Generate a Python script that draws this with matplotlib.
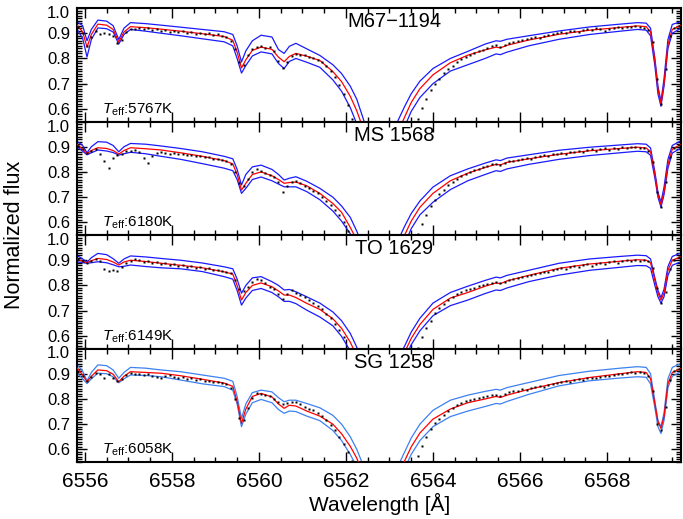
import numpy as np
import matplotlib
matplotlib.use("Agg")
import matplotlib.pyplot as plt
from matplotlib.ticker import MultipleLocator
from matplotlib.transforms import ScaledTranslation

plt.rcParams["font.family"] = ["Liberation Sans", "DejaVu Sans"]
plt.rcParams["mathtext.fontset"] = "custom"
plt.rcParams["mathtext.rm"] = "Liberation Sans"
plt.rcParams["mathtext.it"] = "Liberation Sans:italic"

# csillagok
star_names = ["M67\u22121194", "MS 1568", "TO 1629", "SG 1258"]
teff_values = [5767, 6180, 6149, 6058]

# modell hullamhossz racs (A)
wave_model = [6555.8, 6555.95, 6556.05, 6556.15, 6556.3, 6556.5, 6556.65, 6556.78, 6556.9, 6557.05,
              6557.4, 6557.75, 6558.2, 6558.7, 6559.2, 6559.4, 6559.5, 6559.6, 6559.7, 6559.85,
              6560.05, 6560.3, 6560.45, 6560.58, 6560.7, 6560.85, 6561.1, 6561.4, 6561.7, 6561.9,
              6562.1, 6562.25, 6562.4, 6562.55, 6562.8, 6563.05, 6563.2, 6563.35, 6563.5, 6563.7,
              6564.0, 6564.4, 6564.8, 6565.2, 6565.45, 6565.55, 6565.7, 6566.2, 6566.9, 6567.6,
              6568.3, 6568.7, 6568.9, 6569.0, 6569.1, 6569.17, 6569.24, 6569.31, 6569.4, 6569.5,
              6569.7]

# M67-1194
fit_1194 = [0.937, 0.905, 0.845, 0.895, 0.936, 0.932, 0.915, 0.865, 0.905, 0.926,
            0.922, 0.916, 0.908, 0.898, 0.887, 0.872, 0.825, 0.762, 0.795, 0.832,
            0.845, 0.836, 0.805, 0.787, 0.808, 0.820, 0.809, 0.792, 0.748, 0.708,
            0.650, 0.592, 0.520, 0.440, 0.350, 0.430, 0.510, 0.568, 0.625, 0.680,
            0.735, 0.783, 0.813, 0.834, 0.845, 0.842, 0.852, 0.873, 0.896, 0.912,
            0.923, 0.929, 0.926, 0.905, 0.790, 0.680, 0.620, 0.700, 0.855, 0.915,
            0.932]
cool_1194 = [0.948, 0.930, 0.870, 0.915, 0.952, 0.948, 0.930, 0.875, 0.920, 0.942,
             0.938, 0.932, 0.924, 0.915, 0.906, 0.895, 0.850, 0.786, 0.830, 0.870,
             0.892, 0.885, 0.835, 0.820, 0.848, 0.860, 0.838, 0.812, 0.775, 0.740,
             0.690, 0.638, 0.560, 0.470, 0.380, 0.470, 0.555, 0.610, 0.660, 0.710,
             0.760, 0.800, 0.828, 0.857, 0.870, 0.868, 0.876, 0.890, 0.909, 0.925,
             0.936, 0.942, 0.940, 0.920, 0.800, 0.690, 0.630, 0.720, 0.875, 0.935,
             0.946]
hot_1194 = [0.921, 0.880, 0.806, 0.875, 0.921, 0.918, 0.905, 0.857, 0.895, 0.915,
            0.908, 0.900, 0.890, 0.878, 0.866, 0.850, 0.800, 0.742, 0.772, 0.810,
            0.826, 0.818, 0.780, 0.760, 0.788, 0.800, 0.785, 0.765, 0.715, 0.670,
            0.605, 0.540, 0.470, 0.400, 0.320, 0.400, 0.470, 0.530, 0.590, 0.645,
            0.700, 0.750, 0.775, 0.800, 0.818, 0.815, 0.825, 0.850, 0.876, 0.895,
            0.908, 0.915, 0.912, 0.890, 0.770, 0.660, 0.610, 0.690, 0.840, 0.900,
            0.920]

# MS 1568
fit_1568 = [0.913, 0.890, 0.872, 0.885, 0.896, 0.893, 0.885, 0.871, 0.885, 0.896,
            0.892, 0.887, 0.876, 0.862, 0.845, 0.832, 0.790, 0.728, 0.755, 0.790,
            0.800, 0.785, 0.770, 0.755, 0.758, 0.760, 0.745, 0.715, 0.675, 0.640,
            0.580, 0.530, 0.470, 0.410, 0.330, 0.410, 0.490, 0.550, 0.605, 0.660,
            0.715, 0.765, 0.795, 0.818, 0.830, 0.828, 0.838, 0.852, 0.870, 0.884,
            0.893, 0.898, 0.895, 0.880, 0.790, 0.710, 0.670, 0.720, 0.830, 0.890,
            0.910]
cool_1568 = [0.924, 0.905, 0.876, 0.900, 0.920, 0.918, 0.905, 0.880, 0.900, 0.913,
             0.910, 0.903, 0.893, 0.880, 0.862, 0.852, 0.810, 0.748, 0.790, 0.820,
             0.827, 0.810, 0.790, 0.768, 0.775, 0.781, 0.763, 0.735, 0.700, 0.665,
             0.620, 0.565, 0.500, 0.440, 0.360, 0.450, 0.530, 0.585, 0.635, 0.685,
             0.740, 0.785, 0.812, 0.835, 0.848, 0.845, 0.855, 0.868, 0.886, 0.898,
             0.907, 0.912, 0.910, 0.895, 0.800, 0.720, 0.680, 0.740, 0.850, 0.905,
             0.924]
hot_1568 = [0.903, 0.882, 0.868, 0.876, 0.887, 0.883, 0.877, 0.867, 0.872, 0.878,
            0.872, 0.862, 0.850, 0.833, 0.815, 0.805, 0.770, 0.715, 0.735, 0.770,
            0.780, 0.765, 0.752, 0.741, 0.741, 0.741, 0.722, 0.690, 0.645, 0.605,
            0.555, 0.500, 0.440, 0.380, 0.300, 0.380, 0.450, 0.515, 0.575, 0.630,
            0.680, 0.730, 0.765, 0.790, 0.805, 0.802, 0.812, 0.830, 0.850, 0.865,
            0.876, 0.882, 0.880, 0.866, 0.775, 0.700, 0.660, 0.710, 0.815, 0.875,
            0.895]

# TO 1629
fit_1629 = [0.907, 0.895, 0.890, 0.898, 0.907, 0.903, 0.893, 0.881, 0.893, 0.900,
            0.895, 0.888, 0.880, 0.870, 0.854, 0.845, 0.800, 0.742, 0.772, 0.800,
            0.810, 0.795, 0.778, 0.762, 0.762, 0.752, 0.729, 0.705, 0.668, 0.630,
            0.575, 0.520, 0.460, 0.400, 0.320, 0.400, 0.470, 0.535, 0.590, 0.645,
            0.705, 0.750, 0.772, 0.797, 0.810, 0.807, 0.818, 0.840, 0.868, 0.885,
            0.896, 0.902, 0.900, 0.890, 0.820, 0.770, 0.742, 0.770, 0.860, 0.900,
            0.914]
cool_1629 = [0.921, 0.905, 0.892, 0.910, 0.927, 0.922, 0.906, 0.888, 0.905, 0.917,
             0.913, 0.907, 0.900, 0.889, 0.874, 0.866, 0.825, 0.769, 0.800, 0.830,
             0.835, 0.815, 0.800, 0.782, 0.784, 0.775, 0.755, 0.730, 0.695, 0.660,
             0.610, 0.555, 0.490, 0.430, 0.350, 0.440, 0.510, 0.560, 0.615, 0.670,
             0.730, 0.772, 0.797, 0.820, 0.833, 0.830, 0.840, 0.860, 0.888, 0.905,
             0.915, 0.920, 0.918, 0.905, 0.830, 0.780, 0.752, 0.785, 0.875, 0.915,
             0.929]
hot_1629 = [0.894, 0.890, 0.888, 0.890, 0.894, 0.890, 0.882, 0.874, 0.876, 0.881,
            0.875, 0.870, 0.866, 0.855, 0.835, 0.825, 0.780, 0.722, 0.750, 0.780,
            0.788, 0.772, 0.755, 0.737, 0.737, 0.728, 0.702, 0.675, 0.640, 0.598,
            0.540, 0.490, 0.430, 0.370, 0.290, 0.370, 0.440, 0.505, 0.565, 0.620,
            0.680, 0.720, 0.742, 0.768, 0.782, 0.780, 0.790, 0.815, 0.841, 0.860,
            0.872, 0.879, 0.878, 0.868, 0.800, 0.755, 0.730, 0.755, 0.840, 0.880,
            0.894]

# SG 1258
fit_1258 = [0.928, 0.895, 0.868, 0.890, 0.915, 0.912, 0.898, 0.868, 0.890, 0.908,
            0.905, 0.902, 0.892, 0.878, 0.863, 0.850, 0.790, 0.703, 0.760, 0.810,
            0.822, 0.808, 0.780, 0.763, 0.775, 0.772, 0.752, 0.732, 0.700, 0.662,
            0.612, 0.565, 0.500, 0.430, 0.340, 0.420, 0.500, 0.555, 0.610, 0.665,
            0.720, 0.760, 0.785, 0.800, 0.810, 0.806, 0.815, 0.838, 0.865, 0.885,
            0.900, 0.908, 0.905, 0.880, 0.780, 0.710, 0.683, 0.730, 0.860, 0.905,
            0.921]
cool_1258 = [0.941, 0.910, 0.872, 0.905, 0.935, 0.932, 0.915, 0.882, 0.905, 0.925,
             0.922, 0.915, 0.908, 0.895, 0.882, 0.870, 0.810, 0.723, 0.780, 0.825,
             0.835, 0.828, 0.805, 0.789, 0.795, 0.795, 0.782, 0.765, 0.735, 0.700,
             0.650, 0.600, 0.535, 0.470, 0.370, 0.460, 0.535, 0.590, 0.645, 0.700,
             0.755, 0.795, 0.815, 0.830, 0.838, 0.835, 0.845, 0.865, 0.893, 0.910,
             0.922, 0.928, 0.925, 0.900, 0.790, 0.715, 0.690, 0.745, 0.880, 0.925,
             0.941]
hot_1258 = [0.908, 0.880, 0.861, 0.880, 0.902, 0.900, 0.888, 0.864, 0.880, 0.895,
            0.893, 0.888, 0.875, 0.860, 0.849, 0.835, 0.780, 0.690, 0.740, 0.785,
            0.798, 0.785, 0.758, 0.743, 0.752, 0.750, 0.732, 0.714, 0.675, 0.635,
            0.580, 0.530, 0.465, 0.400, 0.310, 0.390, 0.465, 0.525, 0.580, 0.635,
            0.690, 0.730, 0.752, 0.770, 0.782, 0.780, 0.790, 0.818, 0.852, 0.872,
            0.883, 0.888, 0.886, 0.860, 0.765, 0.690, 0.663, 0.715, 0.845, 0.890,
            0.908]

# megfigyelt spektrumok, 0.1 A lepes 6555.85-tol
wave_obs = np.round(6555.85 + 0.1 * np.arange(139), 2)

obs_1194 = [0.925, 0.900, 0.850, 0.885, 0.910, 0.898, 0.902, 0.895, 0.890, 0.862,
            0.872, 0.905, 0.918, 0.915, 0.922, 0.917, 0.920, 0.912, 0.918, 0.910,
            0.913, 0.906, 0.910, 0.903, 0.908, 0.900, 0.905, 0.897, 0.902, 0.895,
            0.900, 0.893, 0.896, 0.888, 0.885, 0.870, 0.838, 0.785, 0.775, 0.815,
            0.838, 0.845, 0.848, 0.842, 0.845, 0.830, 0.790, 0.762, 0.785, 0.810,
            0.818, 0.815, 0.812, 0.806, 0.802, 0.795, 0.785, 0.770, 0.750, 0.725,
            0.695, 0.660, 0.615, 0.560, 0.500, 0.450, 0.410, 0.380, 0.360, 0.350,
            0.350, 0.360, 0.380, 0.410, 0.440, 0.480, 0.510, 0.535, 0.560, 0.605,
            0.640, 0.675, 0.700, 0.720, 0.742, 0.760, 0.772, 0.785, 0.797, 0.805,
            0.815, 0.822, 0.830, 0.835, 0.843, 0.848, 0.852, 0.845, 0.855, 0.862,
            0.866, 0.870, 0.872, 0.878, 0.880, 0.885, 0.883, 0.890, 0.894, 0.898,
            0.900, 0.904, 0.902, 0.908, 0.910, 0.906, 0.914, 0.918, 0.912, 0.920,
            0.916, 0.908, 0.918, 0.922, 0.925, 0.920, 0.926, 0.924, 0.928, 0.925,
            0.922, 0.912, 0.865, 0.720, 0.618, 0.760, 0.890, 0.920, 0.928]
obs_1568 = [0.902, 0.890, 0.875, 0.884, 0.890, 0.872, 0.842, 0.815, 0.855, 0.868,
            0.872, 0.885, 0.882, 0.886, 0.878, 0.855, 0.837, 0.865, 0.874, 0.878,
            0.876, 0.873, 0.877, 0.870, 0.872, 0.866, 0.868, 0.862, 0.864, 0.858,
            0.860, 0.852, 0.853, 0.846, 0.842, 0.830, 0.800, 0.755, 0.745, 0.772,
            0.800, 0.810, 0.805, 0.795, 0.788, 0.780, 0.760, 0.722, 0.745, 0.762,
            0.766, 0.755, 0.745, 0.738, 0.726, 0.716, 0.700, 0.685, 0.668, 0.650,
            0.628, 0.602, 0.565, 0.530, 0.490, 0.450, 0.410, 0.380, 0.360, 0.350,
            0.350, 0.360, 0.380, 0.410, 0.440, 0.470, 0.500, 0.530, 0.555, 0.595,
            0.630, 0.665, 0.690, 0.712, 0.730, 0.748, 0.762, 0.772, 0.782, 0.790,
            0.800, 0.806, 0.812, 0.818, 0.824, 0.830, 0.832, 0.826, 0.836, 0.842,
            0.845, 0.848, 0.850, 0.855, 0.852, 0.858, 0.862, 0.866, 0.862, 0.870,
            0.872, 0.875, 0.870, 0.878, 0.880, 0.884, 0.878, 0.886, 0.889, 0.884,
            0.890, 0.893, 0.888, 0.895, 0.892, 0.898, 0.895, 0.900, 0.897, 0.894,
            0.893, 0.885, 0.840, 0.720, 0.660, 0.760, 0.860, 0.895, 0.908]
obs_1629 = [0.905, 0.898, 0.890, 0.897, 0.903, 0.895, 0.866, 0.858, 0.862, 0.857,
            0.872, 0.888, 0.896, 0.905, 0.900, 0.893, 0.897, 0.888, 0.892, 0.884,
            0.888, 0.882, 0.885, 0.878, 0.880, 0.874, 0.876, 0.870, 0.872, 0.866,
            0.868, 0.862, 0.863, 0.857, 0.855, 0.848, 0.820, 0.785, 0.776, 0.795,
            0.815, 0.825, 0.820, 0.808, 0.795, 0.785, 0.765, 0.748, 0.765, 0.780,
            0.772, 0.762, 0.755, 0.742, 0.732, 0.720, 0.705, 0.688, 0.670, 0.648,
            0.625, 0.595, 0.545, 0.500, 0.460, 0.430, 0.400, 0.380, 0.360, 0.350,
            0.350, 0.360, 0.380, 0.410, 0.440, 0.470, 0.500, 0.525, 0.552, 0.595,
            0.630, 0.660, 0.690, 0.710, 0.728, 0.742, 0.755, 0.765, 0.773, 0.780,
            0.785, 0.790, 0.796, 0.800, 0.805, 0.810, 0.812, 0.808, 0.815, 0.822,
            0.826, 0.830, 0.835, 0.838, 0.843, 0.846, 0.850, 0.855, 0.852, 0.860,
            0.865, 0.868, 0.866, 0.872, 0.876, 0.874, 0.880, 0.884, 0.879, 0.886,
            0.889, 0.884, 0.892, 0.895, 0.890, 0.897, 0.900, 0.896, 0.902, 0.898,
            0.900, 0.895, 0.870, 0.790, 0.730, 0.775, 0.865, 0.900, 0.912]
obs_1258 = [0.905, 0.890, 0.870, 0.888, 0.902, 0.900, 0.882, 0.898, 0.885, 0.870,
            0.878, 0.895, 0.902, 0.898, 0.900, 0.896, 0.898, 0.892, 0.888, 0.882,
            0.890, 0.893, 0.888, 0.885, 0.887, 0.881, 0.883, 0.877, 0.879, 0.873,
            0.872, 0.868, 0.866, 0.862, 0.858, 0.845, 0.800, 0.725, 0.715, 0.765,
            0.805, 0.825, 0.820, 0.815, 0.810, 0.800, 0.787, 0.778, 0.782, 0.788,
            0.786, 0.778, 0.770, 0.762, 0.755, 0.745, 0.733, 0.718, 0.698, 0.675,
            0.650, 0.622, 0.590, 0.555, 0.510, 0.460, 0.420, 0.390, 0.370, 0.360,
            0.360, 0.370, 0.390, 0.420, 0.450, 0.480, 0.510, 0.540, 0.575, 0.615,
            0.650, 0.680, 0.705, 0.722, 0.738, 0.752, 0.765, 0.776, 0.785, 0.790,
            0.795, 0.800, 0.805, 0.808, 0.812, 0.816, 0.815, 0.810, 0.818, 0.826,
            0.830, 0.833, 0.838, 0.836, 0.842, 0.846, 0.850, 0.848, 0.855, 0.860,
            0.862, 0.866, 0.870, 0.868, 0.874, 0.878, 0.876, 0.882, 0.885, 0.882,
            0.888, 0.892, 0.890, 0.896, 0.900, 0.897, 0.902, 0.906, 0.903, 0.905,
            0.903, 0.890, 0.830, 0.700, 0.675, 0.770, 0.875, 0.910, 0.920]

fits = [fit_1194, fit_1568, fit_1629, fit_1258]
cools = [cool_1194, cool_1568, cool_1629, cool_1258]
hots = [hot_1194, hot_1568, hot_1629, hot_1258]
observed = [obs_1194, obs_1568, obs_1629, obs_1258]
blues = ["#1a1aff", "#1a1aff", "#1a1aff", "#3d80f2"]

fig = plt.figure(figsize=(6.83, 5.19), dpi=100)

left = 77 / 683
width = 604 / 683
top = 8 / 519
height = 113.5 / 519

for k in range(4):
    ax = fig.add_axes([left, 1 - top - (k + 1) * height, width, height])

    ax.plot(wave_model, cools[k], color=blues[k], lw=0.9, zorder=2)
    ax.plot(wave_model, hots[k], color=blues[k], lw=0.9, zorder=2)
    ax.plot(wave_model, fits[k], color="red", lw=0.9, zorder=3)
    ax.plot(wave_obs, observed[k], ls="none", marker="s", ms=1.7,
            mec="none", color="black", zorder=4)

    ax.set_xlim(6555.82, 6569.7)
    ax.set_ylim(0.55, 1.0)

    ax.xaxis.set_major_locator(MultipleLocator(2))
    ax.xaxis.set_minor_locator(MultipleLocator(0.5))
    ax.yaxis.set_major_locator(MultipleLocator(0.1))
    ax.yaxis.set_minor_locator(MultipleLocator(0.01))
    ax.yaxis.set_major_formatter(plt.FuncFormatter(lambda v, p: f"{v:.1f}"))

    ax.tick_params(axis="both", which="both", direction="in",
                   top=True, right=True, width=1.0)
    ax.tick_params(axis="both", which="major", length=7)
    ax.tick_params(axis="both", which="minor", length=3.5)
    ax.tick_params(axis="y", labelsize=12, pad=5)
    ax.tick_params(axis="x", labelsize=15, pad=7)
    if k < 3:
        ax.tick_params(axis="x", labelbottom=False)

    # az 1.0 felirat kicsit lejjebb csuszik, mint az eredetin
    fig.canvas.draw()
    for lab in ax.get_yticklabels():
        if lab.get_text() == "1.0":
            lab.set_transform(lab.get_transform()
                              + ScaledTranslation(0, -4 / 100, fig.dpi_scale_trans))

    for sp in ax.spines.values():
        sp.set_linewidth(1.5)

    ax.text(0.525, 0.88, star_names[k], transform=ax.transAxes,
            ha="center", va="center", fontsize=14.5)
    ax.text(0.041, 0.07, r"$T_{\rm eff}$:" + f"{teff_values[k]}K",
            transform=ax.transAxes, ha="left", va="baseline", fontsize=11)

fig.text(15 / 683, 1 - 235 / 519, "Normalized flux", rotation=90,
         ha="center", va="center", fontsize=15.5)
fig.text(380 / 683, 1 - 511 / 519, "Wavelength [\u00c5]",
         ha="center", va="baseline", fontsize=15)

fig.savefig("out.png", dpi=100)
